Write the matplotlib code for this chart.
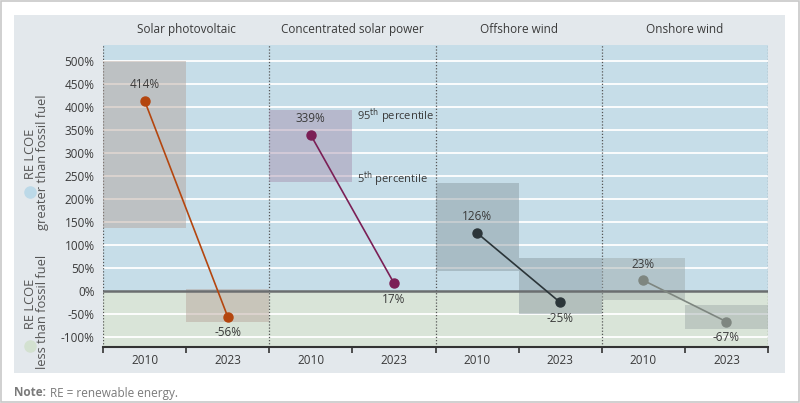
import matplotlib.pyplot as plt
from matplotlib.patches import Rectangle
import numpy as np

plt.rcParams['font.family'] = ['Open Sans', 'DejaVu Sans']

# data
technologies = ["Solar photovoltaic", "Concentrated solar power", "Offshore wind", "Onshore wind"]
years = ["2010", "2023"]
weighted_avg_2010 = [414, 339, 126, 23]
weighted_avg_2023 = [-56, 17, -25, -67]
p5_2010 = [137, 237, 43, -20]
p95_2010 = [500, 393, 235, 72]
p5_2023 = [-67, None, -50, -83]
p95_2023 = [5, None, 72, -30]
yticks = list(range(-100, 501, 50))

line_colors = ["#b4460f", "#7b1f56", "#2b3539", "#7e8680"]
box_colors = ["#b4a096", "#a48dac", "#85949c", "#9ba7a7"]
text_col = "#3a3a3a"

fig = plt.figure(figsize=(8, 4.03), dpi=100)
W, H = 800, 403

# outer border and grey panel
fig.patches.append(Rectangle((1 / W, 1 / H), 798 / W, 401 / H, transform=fig.transFigure,
                             facecolor="white", edgecolor="#c8c8c8", lw=1.2, zorder=-3))
fig.patches.append(Rectangle((14 / W, (H - 373) / H), 771 / W, 358 / H, transform=fig.transFigure,
                             facecolor="#e3e8ec", edgecolor="none", zorder=-2))

ax = fig.add_axes([103 / W, (H - 347) / H, 665 / W, 302 / H])
ax.set_xlim(0, 8)
ax.set_ylim(-122, 535)
ax.axhspan(0, 535, color="#c6dde8", zorder=0, lw=0)
ax.axhspan(-122, 0, color="#d9e4d8", zorder=0, lw=0)
for yv in yticks:
    if yv != 0:
        ax.axhline(yv, color="white", lw=1.3, zorder=1)
ax.axhline(0, color="#6b6e70", lw=1.8, zorder=4)

# group separators
for g in range(5):
    ax.axvline(g * 2, color="#555555", lw=0.9, ls=(0, (1, 1.5)), zorder=2)

for i in range(4):
    x0 = i * 2
    ax.add_patch(Rectangle((x0, p5_2010[i]), 1, p95_2010[i] - p5_2010[i],
                           facecolor=box_colors[i], alpha=0.45, lw=0, zorder=3))
    if p5_2023[i] is not None:
        ax.add_patch(Rectangle((x0 + 1, p5_2023[i]), 1, p95_2023[i] - p5_2023[i],
                               facecolor=box_colors[i], alpha=0.45, lw=0, zorder=3))
    xs = [x0 + 0.5, x0 + 1.5]
    ys = [weighted_avg_2010[i], weighted_avg_2023[i]]
    ax.plot(xs, ys, color=line_colors[i], lw=1.2, marker="o", ms=6.5, zorder=5)
    ax.annotate(f"{ys[0]}%", (xs[0], ys[0]), xytext=(0, 7), textcoords="offset points",
                ha="center", va="bottom", fontsize=8.5, color=text_col, zorder=6)
    ax.annotate(f"{ys[1]}%", (xs[1], ys[1]), xytext=(0, -7), textcoords="offset points",
                ha="center", va="top", fontsize=8.5, color=text_col, zorder=6)
    ax.text(x0 + 1, 1.03, technologies[i], transform=ax.get_xaxis_transform(),
            ha="center", va="bottom", fontsize=8.5, color=text_col)

# percentile notes
ax.text(3.05, p95_2010[1] - 12, "95$^{\\mathrm{th}}$ percentile", ha="left", va="center",
        fontsize=8, color=text_col, zorder=6)
ax.text(3.05, p5_2010[1] + 6, "5$^{\\mathrm{th}}$ percentile", ha="left", va="center",
        fontsize=8, color=text_col, zorder=6)

ax.set_yticks(yticks)
ax.set_yticklabels([f"{v}%" for v in yticks], fontsize=8.5, color=text_col)
ax.tick_params(axis="y", length=0, pad=6)
ax.set_xticks(range(9))
ax.set_xticklabels([])
ax.set_xticks(np.arange(0.5, 8, 1), minor=True)
ax.set_xticklabels(years * 4, minor=True, fontsize=8.5, color=text_col)
ax.tick_params(axis="x", which="major", length=4, width=1.2, color="#333333", direction="out")
ax.tick_params(axis="x", which="minor", length=0, pad=5)
for s in ["top", "left", "right"]:
    ax.spines[s].set_visible(False)
ax.spines["bottom"].set_color("#333333")
ax.spines["bottom"].set_linewidth(1.5)
ax.spines["bottom"].set_zorder(6)

# side labels
def side_label(yc, dot_color, dot_y, second):
    fig.text(30 / W, (H - yc) / H, "     RE LCOE", rotation=90, ha="center", va="center",
             fontsize=9.3, color="#555555")
    fig.text(43 / W, (H - yc) / H, second, rotation=90, ha="center", va="center",
             fontsize=9.3, color="#555555")
    fig.add_artist(plt.Line2D([30 / W], [(H - dot_y) / H], marker="o", ms=8, color=dot_color,
                              transform=fig.transFigure))

side_label(162, "#bcd9e8", 192, "greater than fossil fuel")
side_label(312, "#d3e1d0", 346, "less than fossil fuel")

fig.text(14 / W, (H - 393) / H, "Note:", fontsize=8.5, fontweight="bold",
         color="#7a7a7a", va="center")
fig.text(50 / W, (H - 393) / H, "RE = renewable energy.", fontsize=8.5,
         color="#7a7a7a", va="center")

fig.savefig("out.png", dpi=100)
